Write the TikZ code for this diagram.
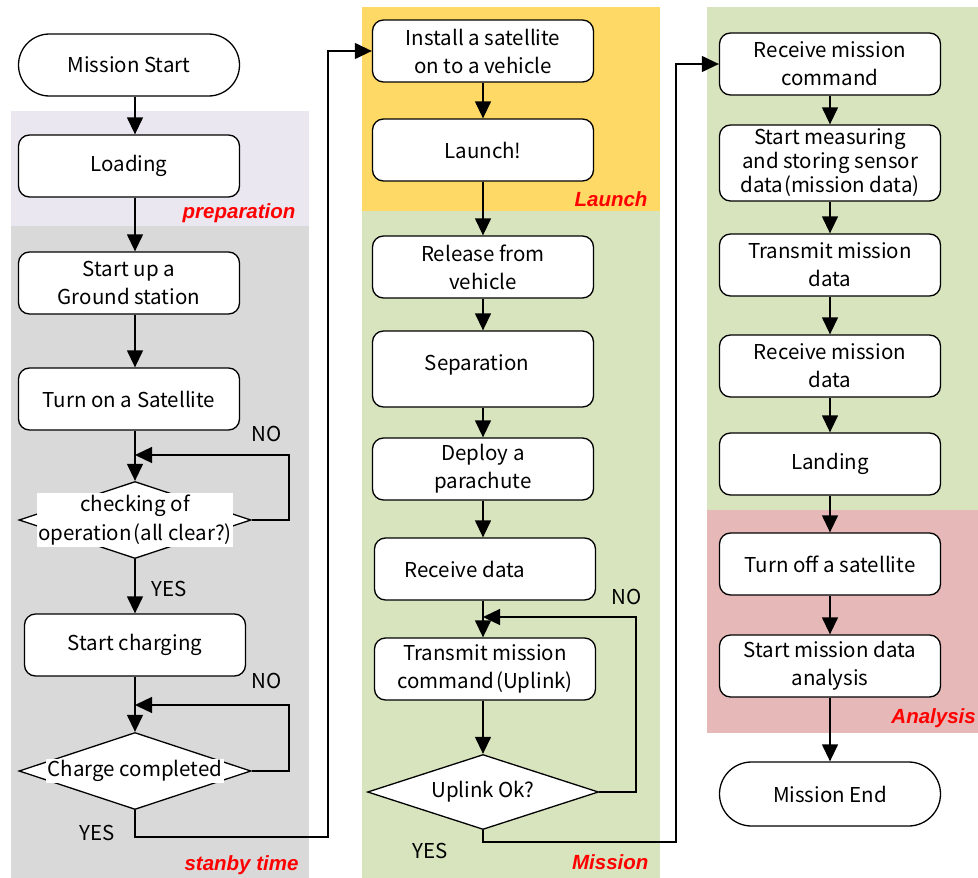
\documentclass[tikz,border=0pt]{standalone}
\usepackage{fontspec}
\setmainfont{Noto Sans CJK JP}
\newfontfamily\lblfont{Liberation Sans}
\usetikzlibrary{arrows.meta,shapes.geometric,calc}
\definecolor{prepc}{RGB}{234,231,240}
\definecolor{standc}{RGB}{217,217,217}
\definecolor{launchc}{RGB}{255,217,102}
\definecolor{missc}{RGB}{215,228,189}
\definecolor{anac}{RGB}{230,184,183}
\begin{document}
\begin{tikzpicture}[x=1pt,y=-1pt,
  box/.style={draw,fill=white,line width=1.3pt,rounded corners=11pt,minimum width=221pt,minimum height=62pt,align=center,inner sep=2pt,font=\fontsize{20.5}{28}\selectfont},
  term/.style={box,rounded corners=31pt},
  dia/.style={draw,fill=white,line width=1.3pt,shape=diamond,minimum width=232pt,minimum height=77pt,inner sep=0pt},
  dtxt/.style={fill=white,inner sep=1.5pt,align=center,font=\fontsize{20.5}{29}\selectfont},
  arr/.style={line width=1.3pt,-{Triangle[length=17pt,width=16pt]}},
  phase/.style={text=red,font=\lblfont\bfseries\itshape\fontsize{20.5}{22}\selectfont},
  yn/.style={font=\fontsize{20.5}{22}\selectfont}
]
\useasboundingbox (0,0) rectangle (978,878);
\clip (0,0) rectangle (978,878);
% backgrounds
\fill[prepc] (11,111) rectangle (309,226);
\fill[standc] (11,226) rectangle (309,878);
\fill[launchc] (362,7) rectangle (660,211);
\fill[missc] (362,211) rectangle (660,878);
\fill[missc] (707,7) rectangle (978,510);
\fill[anac] (707,510) rectangle (978,733);
% phase labels
\node[phase,anchor=east] (lp) at (299,213) {preparation};
\node[phase,anchor=east] (ls) at (302,865) {stanby time};
\node[phase,anchor=east] (ll) at (651,199) {Launch};
\node[phase,anchor=east] (lm) at (652,862) {Mission};
\node[phase,anchor=east,inner sep=1pt] (la) at (977,718) {Analysis};
% axes
\coordinate (axL) at (135,0);
\coordinate (axM) at (483,0);
\coordinate (axR) at (830,0);
% left column
\node[term] (ms) at (129,65) {Mission Start};
\node[box] (load) at (129,166) {Loading};
\node[box] (gs) at (129,283) {Start up a\\Ground station};
\node[box] (turn) at (129,399) {Turn on a Satellite};
\node[dia] (chk) at (135,520) {};
\node[dtxt] (chkt) at (chk) {checking of\\operation\kern2pt(all clear?)};
\node[box] (chg) at (135,645) {Start charging};
\node[dia] (cc) at (135,771) {};
\node[dtxt] (cct) at (cc) {Charge completed};
\node[yn] (no1) at (267,434) {NO};
\node[yn] (yes1) at (169,589) {YES};
\node[yn] (no2) at (267,681) {NO};
\node[yn] (yes2) at (97,833) {YES};
% middle column
\node[box] (inst) at (483,51) {Install a satellite\\on to a vehicle};
\node[box] (lau) at (483,150) {Launch!};
\node[box] (rel) at (483,267) {Release from\\vehicle};
\node[box,minimum height=76pt] (sep) at (483,369) {\raisebox{13pt}{Separation}\hspace*{12pt}};
\node[box] (dep) at (483,469) {Deploy a\\parachute};
\node[box] (rcv) at (485,569) {Receive data\hspace*{40pt}};
\node[box] (tx) at (485,669) {Transmit mission\\command\kern2pt(Uplink)};
\node[dia,minimum width=231pt,minimum height=75pt] (up) at (483,792) {};
\node[font=\fontsize{20.5}{22}\selectfont] (upt) at (up) {Uplink Ok?};
\node[yn] (no3) at (627,597) {NO};
\node[yn] (yes3) at (430,851) {YES};
% right column
\node[box] (rmc) at (830,64) {Receive mission\\command};
\node[box,minimum height=76pt,font=\fontsize{20.5}{24}\selectfont] (meas) at (830,163) {Start measuring\\and storing sensor\\data\kern1pt(mission data)};
\node[box] (tmd) at (830,265) {Transmit mission\\data};
\node[box] (rmd) at (830,366) {Receive mission\\data};
\node[box] (land) at (830,464) {Landing};
\node[box] (off) at (830,564) {Turn off a satellite};
\node[box] (ana) at (830,666) {Start mission data\\analysis};
\node[term,minimum height=64pt,rounded corners=32pt] (me) at (830,794) {Mission End};
% connectors left
\draw[arr] (ms.south -| axL) -- (load.north -| axL);
\draw[arr] (load.south -| axL) -- (gs.north -| axL);
\draw[arr] (gs.south -| axL) -- (turn.north -| axL);
\draw[arr] (turn.south -| axL) -- (chk.north);
\coordinate (n1) at (289,455);
\draw[arr] (chk.east) -| (n1) -- (n1 -| chk.north);
\draw[arr] (chk.south) -- (chg.north);
\draw[arr] (chg.south) -- (cc.north);
\coordinate (n2) at (289,705);
\draw[arr] (cc.east) -| (n2) -- (n2 -| cc.north);
\coordinate (c1) at (328,837);
\draw[arr] (cc.south) |- (c1) |- (inst.west);
% connectors middle
\draw[arr] (inst.south -| axM) -- (lau.north -| axM);
\draw[arr] (lau.south -| axM) -- (rel.north -| axM);
\draw[arr] (rel.south -| axM) -- (sep.north -| axM);
\draw[arr] (sep.south -| axM) -- (dep.north -| axM);
\draw[arr] (dep.south -| axM) -- (rcv.north -| axM);
\draw[arr] (rcv.south -| axM) -- (tx.north -| axM);
\draw[arr] (tx.south -| axM) -- (up.north);
\coordinate (n3) at (636,617);
\draw[arr] (up.east) -| (n3) -- (n3 -| axM);
\coordinate (c2) at (676,842);
\draw[arr] (up.south) |- (c2) |- (rmc.west);
% connectors right
\draw[arr] (rmc.south -| axR) -- (meas.north -| axR);
\draw[arr] (meas.south -| axR) -- (tmd.north -| axR);
\draw[arr] (tmd.south -| axR) -- (rmd.north -| axR);
\draw[arr] (rmd.south -| axR) -- (land.north -| axR);
\draw[arr] (land.south -| axR) -- (off.north -| axR);
\draw[arr] (off.south -| axR) -- (ana.north -| axR);
\draw[arr] (ana.south -| axR) -- (me.north -| axR);
\end{tikzpicture}
\end{document}
